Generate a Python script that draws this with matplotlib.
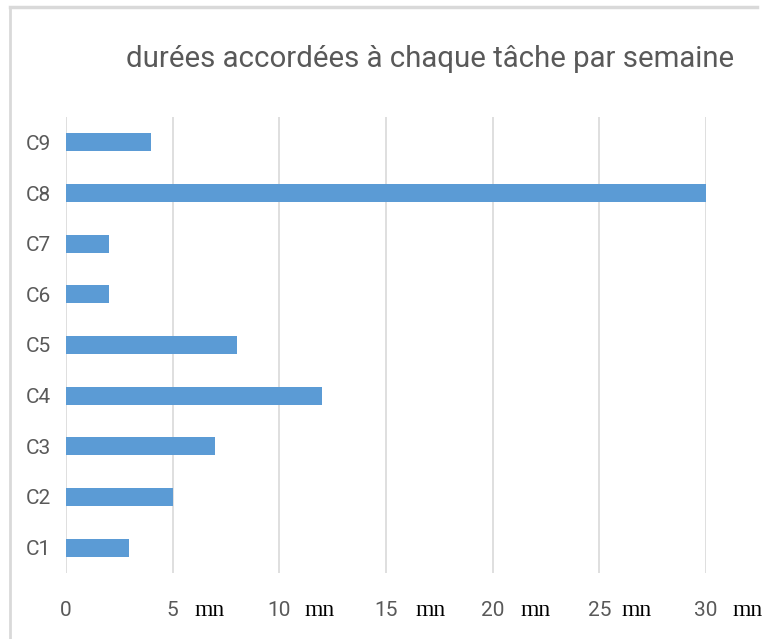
import matplotlib
matplotlib.use('Agg')
import matplotlib.pyplot as plt
import matplotlib.transforms as mtransforms
from matplotlib.lines import Line2D

# données du graphique
taches = ['C1', 'C2', 'C3', 'C4', 'C5', 'C6', 'C7', 'C8', 'C9']
durees = [2.95, 5, 7, 12, 8, 2, 2, 30, 4]
graduations = [0, 5, 10, 15, 20, 25, 30]
unite = 'mn'
titre = 'durées accordées à chaque tâche par semaine'

bleu = '#5B9BD5'
gris_texte = '#595959'
gris_grille = '#D9D9D9'
police = ['Roboto', 'DejaVu Sans']

fig = plt.figure(figsize=(7.78, 6.39), dpi=100)
W, H = 778, 639
ax = fig.add_axes([66 / W, (H - 573) / H, (706 - 66) / W, (573 - 117) / H])

# barres horizontales
ax.barh(range(len(taches)), durees, height=0.36, color=bleu, zorder=3)
ax.set_ylim(-0.5, len(taches) - 0.5)
ax.set_xlim(0, 30)

ax.set_yticks(range(len(taches)))
ax.set_yticklabels(taches, family=police, fontsize=15, color=gris_texte)
ax.set_xticks(graduations)
ax.set_xticklabels([str(g) for g in graduations], family=police, fontsize=15, color=gris_texte)
ax.tick_params(axis='both', length=0)
ax.tick_params(axis='x', pad=20)
ax.tick_params(axis='y', pad=11)

ax.grid(axis='x', color=gris_grille, linewidth=1.2, zorder=0)
for s in ax.spines.values():
    s.set_visible(False)

# unité "mn" à côté de chaque graduation (sauf 0)
decalages = [37, 40, 45, 43, 37, 42]
for g, dx in zip(graduations[1:], decalages):
    tr = mtransforms.offset_copy(ax.get_xaxis_transform(), fig=fig, x=dx, y=0, units='dots')
    ax.text(g, -37 / 456, unite, transform=tr, ha='center', va='center',
            family='Liberation Serif', fontsize=17, color='black')

# titre
fig.text(430 / W, 1 - 59 / H, titre, ha='center', va='center',
         family=police, fontsize=21.2, color=gris_texte)

# cadre (haut et gauche)
fig.add_artist(Line2D([10 / W, 757 / W], [1 - 7 / H, 1 - 7 / H], color=gris_grille, linewidth=2.5))
fig.add_artist(Line2D([10 / W, 10 / W], [0, 1 - 7 / H], color=gris_grille, linewidth=2))

fig.savefig('out.png', dpi=100)
